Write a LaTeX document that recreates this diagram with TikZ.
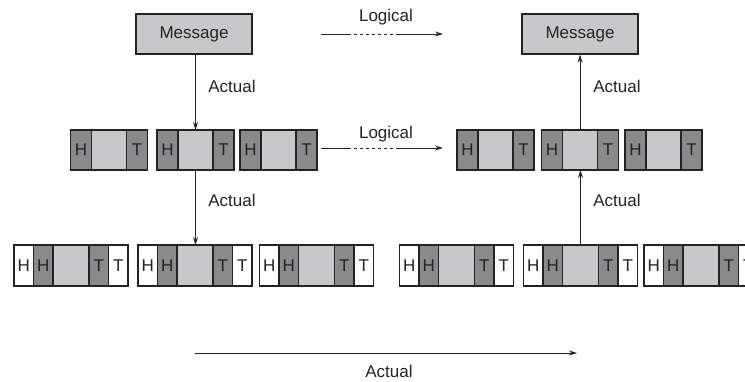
\documentclass[tikz,border=0pt]{standalone}
\usepackage{fontspec}
\setmainfont{Liberation Sans}
\usetikzlibrary{positioning,arrows.meta}

\definecolor{hdrgray}{RGB}{138,138,140}
\definecolor{datgray}{RGB}{200,200,202}
\definecolor{inkgray}{RGB}{35,35,35}

\tikzset{
  every node/.style={font=\fontsize{17}{20}\selectfont, text=inkgray},
  msgbox/.style={draw=inkgray, line width=1.1pt, fill=datgray, minimum width=116pt, minimum height=40pt, inner sep=0pt},
  seg/.style={draw=inkgray, line width=1.1pt, inner sep=0pt, outer sep=0pt},
  hdr/.style={seg, fill=hdrgray, minimum width=21pt, minimum height=40pt},
  dat/.style={seg, fill=datgray, minimum width=35pt, minimum height=40pt},
  lwhite/.style={seg, fill=white, minimum width=19.5pt, minimum height=41pt},
  ldark/.style={seg, fill=hdrgray, minimum width=19.5pt, minimum height=41pt},
  ldat/.style={seg, fill=datgray, minimum width=36pt, minimum height=41pt},
  arr/.style={draw=inkgray, line width=1pt, -{Stealth[length=8pt,width=5pt]}},
  thin/.style={draw=inkgray, line width=1pt}
}

% frame with header and trailer
\newcommand{\Frame}[3]{%
  \node[hdr, anchor=north west] (#1-h) at (#2,#3) {H};
  \node[dat, right=0pt of #1-h] (#1-d) {};
  \node[hdr, right=0pt of #1-d] (#1-t) {T};
}
% frame wrapped once more
\newcommand{\Packet}[3]{%
  \node[lwhite, anchor=north west] (#1-hh) at (#2,#3) {H};
  \node[ldark, right=0pt of #1-hh] (#1-h) {H};
  \node[ldat, right=0pt of #1-h] (#1-d) {};
  \node[ldark, right=0pt of #1-d] (#1-t) {T};
  \node[lwhite, right=0pt of #1-t] (#1-tt) {T};
}

\begin{document}
\begin{tikzpicture}[x=1pt,y=-1pt]
  \useasboundingbox (0,0) rectangle (745,381);
  \clip (0,0) rectangle (745,381);

  % messages
  \node[msgbox] (msgL) at (194,34) {Message};
  \node[msgbox] (msgR) at (580,34) {Message};

  % frames
  \Frame{fL1}{70.5}{130}
  \Frame{fL2}{157}{130}
  \Frame{fL3}{240}{130}
  \Frame{fR1}{457}{130}
  \Frame{fR2}{541.5}{130}
  \Frame{fR3}{625}{130}

  % packets
  \Packet{pL1}{14}{245}
  \Packet{pL2}{138}{245}
  \Packet{pL3}{259.5}{245}
  \Packet{pR1}{399.5}{245}
  \Packet{pR2}{523.5}{245}
  \Packet{pR3}{644}{245}

  % actual path down and up
  \draw[arr] (fL2-d.north |- msgL.south) -- (fL2-d.north);
  \draw[arr] (fL2-d.south) -- (fL2-d.south |- pL2-d.north);
  \draw[arr] (pR2-d.north) -- (pR2-d.north |- fR2-d.south);
  \draw[arr] (fR2-d.north) -- (fR2-d.north |- msgR.south);
  \node (actL1) at (232,86) {Actual};
  \node (actL2) at (232,200) {Actual};
  \node (actR1) at (617,86) {Actual};
  \node (actR2) at (617,200) {Actual};

  % logical arrows
  \coordinate (lgA1) at (321,34);
  \coordinate (lgA2) at (348,34);
  \coordinate (lgA3) at (398,34);
  \coordinate (lgA4) at (443,34);
  \draw[thin] (lgA1) -- (lgA2);
  \draw[thin, dashed] (lgA2) -- (lgA3);
  \draw[arr] (lgA3) -- (lgA4);
  \node (lgLab1) at (386,17) {Logical};

  \coordinate (lgB1) at (321,148);
  \coordinate (lgB2) at (348,148);
  \coordinate (lgB3) at (398,148);
  \coordinate (lgB4) at (443,148);
  \draw[thin] (lgB1) -- (lgB2);
  \draw[thin, dashed] (lgB2) -- (lgB3);
  \draw[arr] (lgB3) -- (lgB4);
  \node (lgLab2) at (386,134) {Logical};

  % bottom arrow
  \coordinate (acS) at (195,353);
  \coordinate (acE) at (577,353);
  \draw[arr] (acS) -- (acE);
  \node (acLab) at (389,371) {Actual};
\end{tikzpicture}
\end{document}
